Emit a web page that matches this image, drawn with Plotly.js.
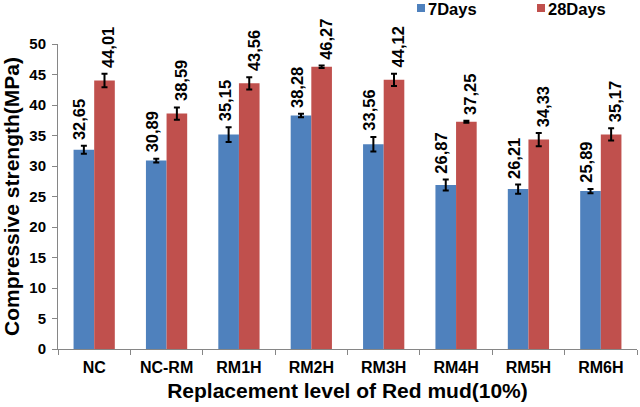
<!DOCTYPE html>
<html>
<head>
<meta charset="utf-8">
<script src="https://cdn.plot.ly/plotly-3.0.1.min.js"></script>
<style>
  html, body { margin: 0; padding: 0; background: #fff; }
  #chart { width: 640px; height: 407px; }
</style>
</head>
<body>
<div id="chart"></div>
<script>
const categories = ['NC', 'NC-RM', 'RM1H', 'RM2H', 'RM3H', 'RM4H', 'RM5H', 'RM6H'];
const seriesNames = ['7Days', '28Days'];
const days7 = [32.65, 30.89, 35.15, 38.28, 33.56, 26.87, 26.21, 25.89];
const days28 = [44.01, 38.59, 43.56, 46.27, 44.12, 37.25, 34.33, 35.17];
const err7 = [0.65, 0.3, 1.2, 0.3, 1.2, 0.9, 0.75, 0.35];
const err28 = [1.1, 1.0, 1.0, 0.2, 1.0, 0.15, 1.1, 1.0];

const FONT = 'Arial, "Liberation Sans", sans-serif';
const COLORS = ['#4F81BD', '#C0504D'];

function plotChart() {
    let trace7 = {
        type: 'bar',
        name: seriesNames[0],
        x: categories,
        y: days7,
        marker: { color: COLORS[0] },
        error_y: { type: 'data', array: err7, visible: true, color: '#000', thickness: 2, width: 3 },
    };
    let trace28 = {
        type: 'bar',
        name: seriesNames[1],
        x: categories,
        y: days28,
        marker: { color: COLORS[1] },
        error_y: { type: 'data', array: err28, visible: true, color: '#000', thickness: 2, width: 3 },
    };

    // value labels sit just above the error bar, rotated
    let annotations = [];
    const offsets = [-0.2, 0.2];
    [[days7, err7], [days28, err28]].forEach(function (pair, s) {
        pair[0].forEach(function (v, i) {
            annotations.push({
                x: i + offsets[s],
                y: v + pair[1][i],
                xref: 'x', yref: 'y',
                text: v.toFixed(2).replace('.', ','),
                textangle: -90,
                showarrow: false,
                xanchor: 'center',
                yanchor: 'bottom',
                yshift: 4,
                font: { family: FONT, size: 16.5, color: '#000', weight: 'bold' },
            });
        });
    });

    // legend drawn by hand: small squares + text at the top right
    let shapes = [];
    const legendX = [417, 537];   // pixel x of the squares
    const plotW = 640 - 58 - 3;
    const plotH = 407 - 44 - 58;
    seriesNames.forEach(function (name, s) {
        shapes.push({
            type: 'rect', xref: 'paper', yref: 'paper',
            x0: (legendX[s] - 58) / plotW, x1: (legendX[s] + 8 - 58) / plotW,
            y0: (349 - 12) / plotH, y1: (349 - 4) / plotH,
            fillcolor: COLORS[s], line: { width: 0 },
        });
        annotations.push({
            xref: 'paper', yref: 'paper',
            x: (legendX[s] + 9 - 58) / plotW, y: (349 - 9) / plotH,
            xanchor: 'left', yanchor: 'middle',
            text: name, showarrow: false,
            font: { family: FONT, size: 16.5, color: '#000', weight: 'bold' },
        });
    });

    const layout = {
        width: 640,
        height: 407,
        margin: { l: 58, r: 3, t: 44, b: 58 },
        paper_bgcolor: '#fff',
        plot_bgcolor: '#fff',
        font: { family: FONT, color: '#000', weight: 'bold' },
        barmode: 'group',
        bargap: 0.43,
        bargroupgap: 0,
        showlegend: false,
        xaxis: {
            type: 'category',
            showline: true,
            linecolor: '#868686',
            linewidth: 1,
            ticks: 'outside',
            tickson: 'boundaries',
            ticklen: 5,
            tickcolor: '#868686',
            showgrid: false,
            ticklabelstandoff: 4,
            tickfont: { family: FONT, size: 16, weight: 'bold' },
            title: { text: 'Replacement level of Red mud(10%)', font: { family: FONT, size: 21, weight: 'bold' }, standoff: 8 },
        },
        yaxis: {
            range: [0, 50],
            dtick: 5,
            showline: true,
            linecolor: '#868686',
            linewidth: 1,
            ticks: 'outside',
            ticklen: 5,
            tickcolor: '#868686',
            showgrid: false,
            zeroline: false,
            ticklabelstandoff: 3,
            tickfont: { family: FONT, size: 15, weight: 'bold' },
            title: { text: 'Compressive strength(MPa)', font: { family: FONT, size: 21, weight: 'bold' }, standoff: 6 },
        },
        shapes: shapes,
        annotations: annotations,
    };

    Plotly.newPlot('chart', [trace7, trace28], layout, { displayModeBar: false, staticPlot: true });
}

plotChart();
</script>
</body>
</html>
